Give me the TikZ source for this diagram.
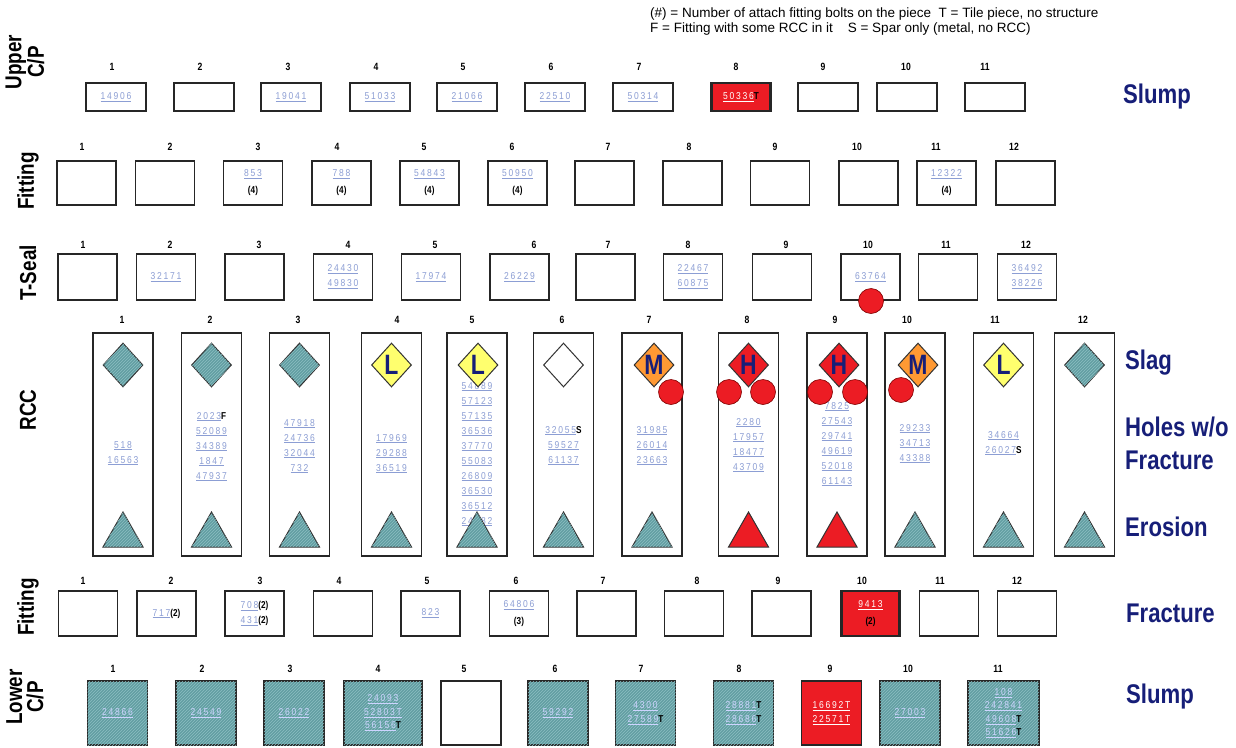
\documentclass[tikz,border=0pt]{standalone}
\usepackage{fontspec}
\setmainfont{Liberation Sans}
\newfontfamily\nfont{Liberation Sans}[FakeStretch=0.82]
\newfontfamily\numfont{Liberation Sans}[FakeStretch=0.85,LetterSpace=18]
\usetikzlibrary{shapes.geometric,patterns}
\definecolor{numblue}{RGB}{140,158,212}
\definecolor{tealc}{RGB}{98,158,162}
\definecolor{tealh}{RGB}{140,190,194}
\definecolor{redc}{RGB}{236,28,36}
\definecolor{orangec}{RGB}{255,153,51}
\definecolor{yellowc}{RGB}{255,255,110}
\definecolor{navyc}{RGB}{22,30,120}
\definecolor{lavc}{RGB}{205,212,255}
\newcommand\un[1]{\underline{#1}}
\newcommand\bk[1]{\textcolor{black}{\nfont\bfseries #1}}
\begin{document}
\begin{tikzpicture}[x=1pt,y=-1pt,
  every node/.style={inner sep=0pt},
  pbox/.style={draw=black!85,line width=1.3pt,fill=white},
  hatch/.style={postaction={pattern=north east lines,pattern color=tealh}},
  num/.style={font=\numfont\fontsize{10}{15}\selectfont,text=numblue,align=center},
  wnum/.style={font=\numfont\fontsize{10}{14}\selectfont,text=white,align=center},
  lnum/.style={font=\numfont\fontsize{10}{13.5}\selectfont,text=lavc,align=center},
  idx/.style={font=\nfont\bfseries\fontsize{10.5}{12}\selectfont},
  rowlab/.style={font=\nfont\bfseries\fontsize{23}{21}\selectfont,rotate=90,align=center},
  rlab/.style={font=\nfont\bfseries\fontsize{27}{33}\selectfont,text=navyc,anchor=west,align=left},
  legend/.style={font=\fontsize{13.5}{15}\selectfont,anchor=west},
  dia/.style={diamond,draw=black!80,line width=1pt,minimum width=40pt,minimum height=44pt},
  tri/.style={draw=black!80,line width=1pt},
  hole/.style={circle,fill=redc,draw=red!50!black,line width=0.6pt,minimum size=25pt},
  letter/.style={font=\nfont\bfseries\fontsize{28}{28}\selectfont,text=navyc}]
\useasboundingbox (0,0) rectangle (1236,747);

% legend
\node[legend] (leg1) at (650,14) {(\#) = Number of attach fitting bolts on the piece\ \ T = Tile piece, no structure};
\node[legend] (leg2) at (650,29) {F = Fitting with some RCC in it\ \ \ \ S = Spar only (metal, no RCC)};

% row labels
\node[rowlab] (labU) at (25,62) {Upper\\C/P};
\node[rowlab] (labF1) at (28,181) {Fitting};
\node[rowlab] (labT) at (28,273) {T-Seal};
\node[rowlab] (labR) at (28,410) {RCC};
\node[rowlab] (labF2) at (28,607) {Fitting};
\node[rowlab] (labL) at (25,697) {Lower\\C/P};

% right labels
\node[rlab] (rSlump1) at (1123,97) {Slump};
\node[rlab] (rSlag) at (1125,363) {Slag};
\node[rlab] (rHoles) at (1125,443) {Holes w/o\\Fracture};
\node[rlab] (rEros) at (1125,527) {Erosion};
\node[rlab] (rFrac) at (1126,613) {Fracture};
\node[rlab] (rSlump2) at (1126,697) {Slump};

% ---------------- Upper C/P
\foreach \i/\x/\lx in {1/116/112,2/204/200,3/291/288,4/380/376,5/467/463,6/555/551,7/643/639,8/741/736,9/828/823,10/907/906,11/995/985}{
  \node[pbox,minimum width=60pt,minimum height=28pt] (u\i) at (\x,97) {};
  \node[idx] (ui\i) at (\lx,67) {\i};
}
\node[pbox,fill=redc,minimum width=58pt,minimum height=28pt] (u8r) at (u8) {};
\node[num] (un1) at (u1) {\un{14906}};
\node[num] (un3) at (u3) {\un{19041}};
\node[num] (un4) at (u4) {\un{51033}};
\node[num] (un5) at (u5) {\un{21066}};
\node[num] (un6) at (u6) {\un{22510}};
\node[num] (un7) at (u7) {\un{50314}};
\node[wnum] (un8) at (u8) {\un{50336}\bk{T}};

% ---------------- Fitting (upper)
\foreach \i/\x/\lx in {1/86.5/82,2/165/170,3/253/258,4/341.5/337,5/429.5/424,6/517.5/512,7/604.5/608,8/692.5/689,9/780/775,10/868.5/857,11/946.5/936,12/1025.5/1014}{
  \node[pbox,minimum width=59pt,minimum height=44pt] (f\i) at (\x,183) {};
  \node[idx] (fi\i) at (\lx,147) {\i};
}
\node[num,font=\numfont\fontsize{10}{17}\selectfont] (fn3) at (f3) {\un{853}\\\bk{(4)}};
\node[num,font=\numfont\fontsize{10}{17}\selectfont] (fn4) at (f4) {\un{788}\\\bk{(4)}};
\node[num,font=\numfont\fontsize{10}{17}\selectfont] (fn5) at (f5) {\un{54843}\\\bk{(4)}};
\node[num,font=\numfont\fontsize{10}{17}\selectfont] (fn6) at (f6) {\un{50950}\\\bk{(4)}};
\node[num,font=\numfont\fontsize{10}{17}\selectfont] (fn11) at (f11) {\un{12322}\\\bk{(4)}};

% ---------------- T-Seal
\foreach \i/\x/\lx in {1/87.5/83,2/166/170,3/254.5/259,4/343/348,5/431/435,6/519.5/534,7/605.5/608,8/693/688,9/782/786,10/870.5/868,11/948/946,12/1027/1026}{
  \node[pbox,minimum width=59pt,minimum height=46pt] (t\i) at (\x,277) {};
  \node[idx] (ti\i) at (\lx,245) {\i};
}
\node[num] (tn2) at (t2) {\un{32171}};
\node[num] (tn4) at (t4) {\un{24430}\\\un{49830}};
\node[num] (tn5) at (t5) {\un{17974}};
\node[num] (tn6) at (t6) {\un{26229}};
\node[num] (tn8) at (t8) {\un{22467}\\\un{60875}};
\node[num] (tn10) at (t10) {\un{63764}};
\node[num] (tn12) at (t12) {\un{36492}\\\un{38226}};
\node[hole] (th10) at (871,301) {};

% ---------------- RCC
\foreach \i/\x/\lx in {1/123/122,2/211.5/210,3/299.5/298,4/391.5/397,5/477/472,6/563.5/562,7/652/649,8/748.5/747,9/837/835,10/915/907,11/1003.5/995,12/1084.5/1083}{
  \node[pbox,minimum width=60pt,minimum height=223pt] (r\i) at (\x,444.5) {};
  \node[idx] (ri\i) at (\lx,320) {\i};
}
\node[num,anchor=north] (rn1) at (123,441) {\un{518}\\\un{16563}};
\node[num,anchor=north] (rn2) at (211.5,412) {\un{2023}\bk{F}\\\un{52089}\\\un{34389}\\\un{1847}\\\un{47937}};
\node[num,anchor=north] (rn3) at (299.5,419) {\un{47918}\\\un{24736}\\\un{32044}\\\un{732}};
\node[num,anchor=north] (rn4) at (391.5,434) {\un{17969}\\\un{29288}\\\un{36519}};
\node[num,anchor=north] (rn5) at (477,382) {\un{54889}\\\un{57123}\\\un{57135}\\\un{36536}\\\un{37770}\\\un{55083}\\\un{26809}\\\un{36530}\\\un{36512}\\\un{24282}};
\node[num,anchor=north] (rn6) at (563.5,426) {\un{32055}\bk{S}\\\un{59527}\\\un{61137}};
\node[num,anchor=north] (rn7) at (652,426) {\un{31985}\\\un{26014}\\\un{23663}};
\node[num,anchor=north] (rn8) at (748.5,418) {\un{2280}\\\un{17957}\\\un{18477}\\\un{43709}};
\node[num,anchor=north] (rn9) at (837,402) {\un{7825}\\\un{27543}\\\un{29741}\\\un{49619}\\\un{52018}\\\un{61143}};
\node[num,anchor=north] (rn10) at (915,424) {\un{29233}\\\un{34713}\\\un{43388}};
\node[num,anchor=north] (rn11) at (1003.5,431) {\un{34664}\\\un{26027}\bk{S}};

% diamonds (slag)
\node[dia,fill=tealc,hatch] (d1) at (123,365) {};
\node[dia,fill=tealc,hatch] (d2) at (211.5,365) {};
\node[dia,fill=tealc,hatch] (d3) at (299.5,365) {};
\node[dia,fill=yellowc] (d4) at (391.5,365) {};
\node[dia,fill=yellowc] (d5) at (478,365) {};
\node[dia,fill=white] (d6) at (563.5,365) {};
\node[dia,fill=orangec] (d7) at (654,365) {};
\node[dia,fill=redc] (d8) at (748.5,365) {};
\node[dia,fill=redc] (d9) at (839,365) {};
\node[dia,fill=orangec] (d10) at (918,365) {};
\node[dia,fill=yellowc] (d11) at (1003.5,365) {};
\node[dia,fill=tealc,hatch] (d12) at (1084.5,365) {};
\node[letter] (dl4) at (d4) {L};
\node[letter] (dl5) at (d5) {L};
\node[letter] (dl7) at (d7) {M};
\node[letter] (dl8) at (d8) {H};
\node[letter] (dl9) at (d9) {H};
\node[letter] (dl10) at (d10) {M};
\node[letter] (dl11) at (d11) {L};

% holes
\node[hole] (h7) at (671,392) {};
\node[hole] (h8a) at (729,392) {};
\node[hole] (h8b) at (763,392) {};
\node[hole] (h9a) at (820,392) {};
\node[hole] (h9b) at (855,392) {};
\node[hole] (h10) at (901,390) {};

% triangles (erosion)
\foreach \x in {123,211.5,299.5,391.5,477,563.5,652,915,1003.5,1084.5}{
  \draw[tri,fill=tealc,hatch] (\x-20,547) -- (\x,512) -- (\x+20,547) -- cycle;
}
\foreach \x in {748.5,837}{
  \draw[tri,fill=redc] (\x-20,547) -- (\x,512) -- (\x+20,547) -- cycle;
}

% ---------------- Fitting (lower)
\foreach \i/\x/\lx in {1/88/83,2/166.5/171,3/254.5/260,4/343/339,5/430.5/427,6/519/516,7/606.5/603,8/694/697,9/781.5/778,10/870.5/862,11/949/940,12/1027/1017}{
  \node[pbox,minimum width=59pt,minimum height=45pt] (g\i) at (\x,613.5) {};
  \node[idx] (gi\i) at (\lx,581) {\i};
}
\node[pbox,fill=redc,minimum width=57pt,minimum height=45pt] (g10r) at (g10) {};
\node[num] (gn2) at (g2) {\un{717}\bk{(2)}};
\node[num] (gn3) at (g3) {\un{708}\bk{(2)}\\\un{431}\bk{(2)}};
\node[num] (gn5) at (g5) {\un{823}};
\node[num,font=\numfont\fontsize{10}{17}\selectfont] (gn6) at (g6) {\un{64806}\\\bk{(3)}};
\node[wnum,font=\numfont\fontsize{10}{17}\selectfont] (gn10) at (g10) {\un{9413}\\\bk{(2)}};

% ---------------- Lower C/P
\foreach \i/\x/\w/\lx in {1/117.5/60/113,2/206/60/202,3/294/60/290,4/383/78/378,6/558/60/555,7/645.5/60/641,8/743.5/60/739,10/910/60/908,11/1003.5/71/998}{
  \node[pbox,fill=tealc,hatch,minimum width=\w pt,minimum height=64pt] (l\i) at (\x,713) {};
  \node[idx] (li\i) at (\lx,669) {\i};
}
\node[pbox,minimum width=60pt,minimum height=64pt] (l5) at (471,713) {};
\node[idx] (li5) at (464,669) {5};
\node[pbox,fill=redc,minimum width=60pt,minimum height=64pt] (l9) at (831.5,713) {};
\node[idx] (li9) at (830,669) {9};
\node[lnum] (ln1) at (l1) {\un{24866}};
\node[lnum] (ln2) at (l2) {\un{24549}};
\node[lnum] (ln3) at (l3) {\un{26022}};
\node[lnum] (ln4) at (l4) {\un{24093}\\\un{52803T}\\\un{56156}\bk{T}};
\node[lnum] (ln6) at (l6) {\un{59292}};
\node[lnum] (ln7) at (l7) {\un{4300}\\\un{27589}\bk{T}};
\node[lnum] (ln8) at (l8) {\un{28881}\bk{T}\\\un{28686}\bk{T}};
\node[wnum] (ln9) at (l9) {\un{16692T}\\\un{22571T}};
\node[lnum] (ln10) at (l10) {\un{27003}};
\node[lnum] (ln11) at (l11) {\un{108}\\\un{242841}\\\un{49608}\bk{T}\\\un{51626}\bk{T}};
\end{tikzpicture}
\end{document}
